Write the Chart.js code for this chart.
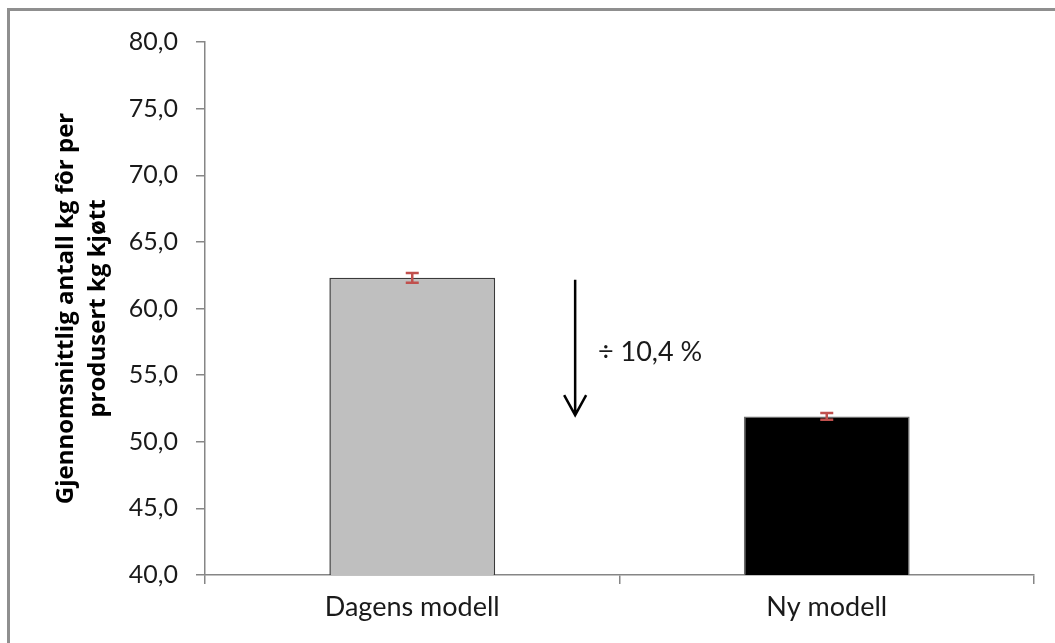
<!DOCTYPE html>
<html lang="no">
<head>
<meta charset="UTF-8">
<title>Kg fôr per kg kjøtt</title>
<script src="https://cdn.jsdelivr.net/npm/chart.js"></script>
<style>
  html, body { margin: 0; padding: 0; background: #fff; overflow: hidden; }
  .frame { position: absolute; left: 7px; top: 8px; width: 1100px; height: 700px; border: 3px solid #8f8f8f; box-sizing: border-box; }
  .wrap { position: absolute; left: 0; top: 0; width: 1055px; height: 643px; }
</style>
</head>
<body>
<div class="frame"></div>
<div class="wrap"><canvas id="chart" width="1055" height="643"></canvas></div>
<script>
// data
const categories = ['Dagens modell', 'Ny modell'];
const values = [62.3, 51.9];
const errors = [0.37, 0.25];
const barColors = ['#bfbfbf', '#000000'];
const barBorders = ['#3a3a3a', '#6a6a6a'];
const yTitle = ['Gjennomsnittlig antall kg fôr per', 'produsert kg kjøtt'];
const changeLabel = '÷ 10,4 %';
// arrow from / to (category index, value), label anchor
const arrowX = 0.393, arrowTop = 62.15, arrowBottom = 52.0;
const labelX = 0.448, labelY = 56.7;

const font = 'Lato';

const errorBars = {
  id: 'errorBars',
  afterDatasetsDraw(chart) {
    const ctx = chart.ctx;
    const meta = chart.getDatasetMeta(0);
    const y = chart.scales.y;
    ctx.save();
    ctx.strokeStyle = '#c0504d';
    ctx.lineWidth = 2.5;
    meta.data.forEach((bar, i) => {
      const hi = y.getPixelForValue(values[i] + errors[i]);
      const lo = y.getPixelForValue(values[i] - errors[i]);
      const x = bar.x;
      ctx.beginPath();
      ctx.moveTo(x, hi); ctx.lineTo(x, lo);
      ctx.moveTo(x - 6.5, hi); ctx.lineTo(x + 6.5, hi);
      ctx.moveTo(x - 6.5, lo); ctx.lineTo(x + 6.5, lo);
      ctx.stroke();
    });
    ctx.restore();
  }
};

const changeArrow = {
  id: 'changeArrow',
  afterDraw(chart) {
    const ctx = chart.ctx;
    const xs = chart.scales.x, ys = chart.scales.y;
    const x = xs.getPixelForValue(arrowX);
    const top = ys.getPixelForValue(arrowTop);
    const bot = ys.getPixelForValue(arrowBottom);
    ctx.save();
    ctx.strokeStyle = '#000';
    ctx.lineWidth = 2.5;
    ctx.beginPath();
    ctx.moveTo(x, top); ctx.lineTo(x, bot);
    ctx.moveTo(x - 11, bot - 20); ctx.lineTo(x, bot); ctx.lineTo(x + 11, bot - 20);
    ctx.stroke();
    ctx.fillStyle = '#1a1a1a';
    ctx.font = '27px ' + font;
    ctx.textAlign = 'left';
    ctx.textBaseline = 'middle';
    ctx.fillText(changeLabel, xs.getPixelForValue(labelX), ys.getPixelForValue(labelY));
    ctx.restore();
  }
};

new Chart(document.getElementById('chart'), {
  type: 'bar',
  data: {
    labels: categories,
    datasets: [{
      data: values,
      backgroundColor: barColors,
      borderColor: barBorders,
      borderWidth: 1.5,
      barPercentage: 0.4,
      categoryPercentage: 1
    }]
  },
  options: {
    responsive: false,
    animation: false,
    events: [],
    layout: { padding: { top: 42, right: 21, left: 0, bottom: 0 } },
    plugins: { legend: { display: false }, tooltip: { enabled: false } },
    scales: {
      x: {
        afterFit(s) { s.height = 68; },
        border: { color: '#868686', width: 1.5 },
        grid: { drawOnChartArea: false, color: '#868686', tickLength: 9, offset: true, lineWidth: 1.5 },
        ticks: { color: '#1a1a1a', font: { family: font, size: 27 }, padding: 7 }
      },
      y: {
        min: 40, max: 80,
        afterFit(s) { s.width = 205; },
        border: { color: '#868686', width: 1.5 },
        grid: { drawOnChartArea: false, color: '#868686', tickLength: 9, lineWidth: 1.5 },
        ticks: {
          stepSize: 5,
          color: '#1a1a1a',
          font: { family: font, size: 25 },
          padding: 18,
          callback: v => v.toFixed(1).replace('.', ',')
        },
        title: {
          display: true,
          text: yTitle,
          color: '#000',
          font: { family: 'Open Sans', size: 24, weight: 'bold', lineHeight: 1.33 },
          padding: { top: 50, bottom: 0 }
        }
      }
    }
  },
  plugins: [errorBars, changeArrow]
});
</script>
</body>
</html>
